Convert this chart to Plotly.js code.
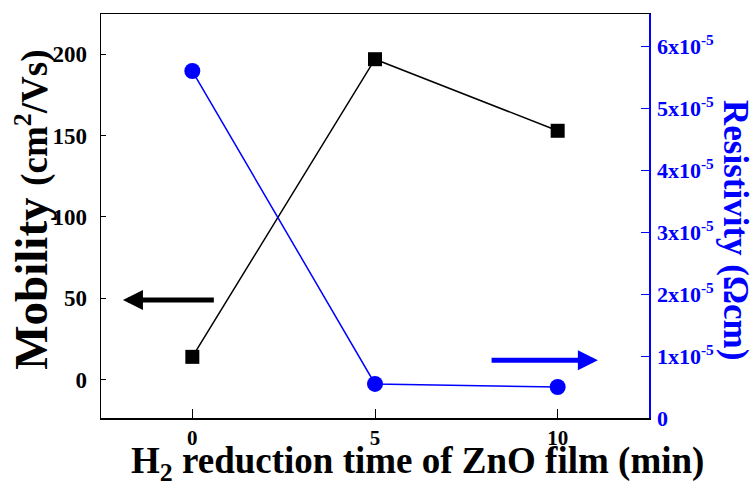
<!DOCTYPE html>
<html>
<head>
<meta charset="utf-8">
<script src="https://cdn.plot.ly/plotly-3.0.1.min.js"></script>
<style>html,body{margin:0;padding:0;background:#fff;}#chart{width:752px;height:484px;}</style>
</head>
<body>
<div id="chart"></div>
<script>
const reductionTime = [0, 5, 10];
const mobility = [14, 197, 153];
const resistivity = [5.6e-5, 0.55e-5, 0.5e-5];
const xTickVals = [0, 5, 10];
const xTickText = ['0', '5', '10'];
const leftTickVals = [0, 50, 100, 150, 200];
const leftTickText = ['0', '50', '100', '150', '200'];
const leftMajorTickVals = [0, 100, 200];
const rightTickVals = [0, 1e-5, 2e-5, 3e-5, 4e-5, 5e-5, 6e-5];
const rightTickText = ['0', '1x10<sup>-5</sup>', '2x10<sup>-5</sup>', '3x10<sup>-5</sup>', '4x10<sup>-5</sup>', '5x10<sup>-5</sup>', '6x10<sup>-5</sup>'];

const FONT = 'Liberation Serif';
const BLUE = '#0000ff';
const bold = arr => arr.map(s => '<b>' + s + '</b>');
const mobilityRange = [-23.6, 224.8];

const traces = [
  {
    x: reductionTime, y: mobility, type: 'scatter', mode: 'lines+markers',
    line: {color: '#000', width: 1.5},
    marker: {symbol: 'square', size: 14, color: '#000'},
    xaxis: 'x', yaxis: 'y', showlegend: false, hoverinfo: 'none'
  },
  {
    x: reductionTime, y: resistivity, type: 'scatter', mode: 'lines+markers',
    line: {color: BLUE, width: 1.5},
    marker: {symbol: 'circle', size: 16, color: BLUE},
    xaxis: 'x', yaxis: 'y2', showlegend: false, hoverinfo: 'none'
  }
];

const layout = {
  width: 752, height: 484,
  margin: {l: 101, r: 103, t: 14, b: 66},
  paper_bgcolor: '#fff', plot_bgcolor: '#fff',
  font: {family: FONT, color: '#000', size: 22},
  xaxis: {
    range: [-2.5, 12.5], tickmode: 'array', tickvals: xTickVals, ticktext: bold(xTickText),
    showline: true, linecolor: '#000', linewidth: 1.5, mirror: true,
    ticks: 'inside', ticklen: 9, tickwidth: 1, tickcolor: '#000',
    showgrid: false, zeroline: false, ticklabelstandoff: 0,
    tickfont: {family: FONT, size: 21, color: '#000'}
  },
  yaxis: {
    range: mobilityRange, tickmode: 'array', tickvals: leftTickVals, ticktext: bold(leftTickText),
    showline: true, linecolor: '#000', linewidth: 1.5,
    ticks: 'inside', ticklen: 5, tickwidth: 1, tickcolor: '#000',
    showgrid: false, zeroline: false, ticklabelstandoff: 8,
    tickfont: {family: FONT, size: 23, color: '#000'}
  },
  yaxis3: {
    overlaying: 'y', side: 'left', anchor: 'x',
    range: mobilityRange, tickmode: 'array', tickvals: leftMajorTickVals,
    showticklabels: false, showline: false,
    ticks: 'inside', ticklen: 9, tickwidth: 1, tickcolor: '#000',
    showgrid: false, zeroline: false
  },
  yaxis2: {
    overlaying: 'y', side: 'right',
    range: [0, 6.52e-5], tickmode: 'array', tickvals: rightTickVals, ticktext: bold(rightTickText),
    showline: true, linecolor: BLUE, linewidth: 1.5,
    ticks: 'inside', ticklen: 8, tickwidth: 1, tickcolor: BLUE,
    showgrid: false, zeroline: false, ticklabelstandoff: 2,
    tickfont: {family: FONT, size: 22, color: BLUE}
  },
  annotations: [
    {xref: 'paper', yref: 'paper', x: 0.578, y: -0.112, xanchor: 'center', yanchor: 'middle', showarrow: false,
     text: '<b>H<sub>2</sub> reduction time of ZnO film (min)</b>', font: {family: FONT, size: 37, color: '#000'}},
    {xref: 'paper', yref: 'paper', x: -0.128, y: 0.515, xanchor: 'center', yanchor: 'middle', showarrow: false, textangle: -90,
     text: '<b>Mobility <span style="font-size:37px">(cm<sup>2</sup>/Vs)</span></b>', font: {family: FONT, size: 47, color: '#000'}},
    {xref: 'paper', yref: 'paper', x: 1.159, y: 0.465, xanchor: 'center', yanchor: 'middle', showarrow: false, textangle: 90,
     text: '<b>Resistivity (Ωcm)</b>', font: {family: FONT, size: 35, color: BLUE}},
    {x: -1.9, y: 49, xref: 'x', yref: 'y', ax: 0.63, ay: 49, axref: 'x', ayref: 'y',
     showarrow: true, arrowhead: 2, arrowsize: 0.8, arrowwidth: 5, arrowcolor: '#000', text: ''},
    {x: 11.1, y: 0.93e-5, xref: 'x', yref: 'y2', ax: 8.15, ay: 0.93e-5, axref: 'x', ayref: 'y2',
     showarrow: true, arrowhead: 2, arrowsize: 0.8, arrowwidth: 5, arrowcolor: BLUE, text: ''}
  ]
};

Plotly.newPlot('chart', traces, layout, {displayModeBar: false, staticPlot: true});
</script>
</body>
</html>
